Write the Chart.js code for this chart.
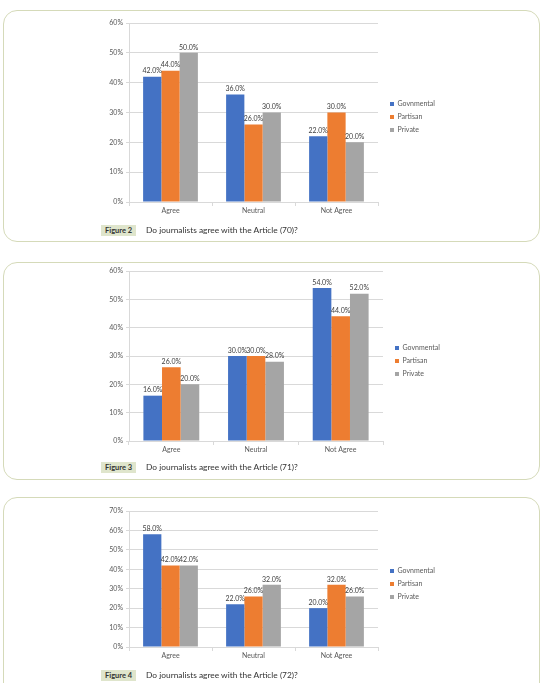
<!DOCTYPE html>
<html>
<head>
<meta charset="utf-8">
<script src="https://cdn.jsdelivr.net/npm/chart.js@4.4.1/dist/chart.umd.min.js"></script>
<style>
  body { margin: 0; background: #fff; font-family: Lato, sans-serif; }
  .panel { position: absolute; left: 3px; width: 537px; border: 1px solid #d5dab9; border-radius: 14px; box-sizing: border-box; }
  canvas { position: absolute; }
  .badge { position: absolute; left: 101px; height: 11px; line-height: 11px; padding: 0 4px; background: #dfe5cc; font-weight: bold; font-size: 7.5px; color: #333; }
  .caption { position: absolute; left: 146px; height: 11px; line-height: 11px; font-size: 8.4px; color: #333; }
</style>
</head>
<body>
<div class="panel" style="top:10px;height:232px"></div>
<div class="panel" style="top:262px;height:218px"></div>
<div class="panel" style="top:497px;height:200px"></div>

<canvas id="fig2" width="420" height="220" style="left:80px;top:12px"></canvas>
<canvas id="fig3" width="420" height="209" style="left:80px;top:262px"></canvas>
<canvas id="fig4" width="420" height="178" style="left:80px;top:499px"></canvas>

<div class="badge" style="top:225px">Figure 2</div><div class="caption" style="top:225px">Do journalists agree with the Article (70)?</div>
<div class="badge" style="top:462px">Figure 3</div><div class="caption" style="top:462px">Do journalists agree with the Article (71)?</div>
<div class="badge" style="top:670px">Figure 4</div><div class="caption" style="top:670px">Do journalists agree with the Article (72)?</div>

<script>
// answers per category, in percent
const categories = ["Agree", "Neutral", "Not Agree"];
const seriesNames = ["Govnmental", "Partisan", "Private"];

const fig2Gov = [42, 36, 22];
const fig2Par = [44, 26, 30];
const fig2Pri = [50, 30, 20];

const fig3Gov = [16, 30, 54];
const fig3Par = [26, 30, 44];
const fig3Pri = [20, 28, 52];

const fig4Gov = [58, 22, 20];
const fig4Par = [42, 26, 32];
const fig4Pri = [42, 32, 26];

const colors = ["#4472C4", "#ED7D31", "#A5A5A5"];
const textColor = "#595959";
const gridColor = "#d9d9d9";

// value labels above each bar ("42.0%")
const valueLabels = {
    id: "valueLabels",
    afterDatasetsDraw(chart) {
        const ctx = chart.ctx;
        ctx.save();
        ctx.font = "7px Lato";
        ctx.fillStyle = "#404040";
        ctx.textAlign = "center";
        ctx.textBaseline = "bottom";
        chart.data.datasets.forEach((ds, i) => {
            chart.getDatasetMeta(i).data.forEach((bar, j) => {
                ctx.fillText(ds.data[j].toFixed(1) + "%", bar.x, bar.y - 2);
            });
        });
        ctx.restore();
    }
};

// put the legend where the original one sits (and give it room so it isn't clipped)
const legendPlace = {
    id: "legendPlace",
    afterLayout(chart, args, opts) {
        const L = chart.legend;
        if (!L || opts.x === undefined) return;
        const dy = opts.y - L.top;
        L.left = opts.x;
        L.right = opts.x + 80;
        L.top += dy;
        L.bottom += dy;
    }
};

// plotRight: right edge of the plot area, canvas coordinates
function makeChart(id, gov, par, pri, yMax, padTop, plotRight, legendX, legendY) {
    const canvas = document.getElementById(id);
    const ctx = canvas.getContext("2d");
    return new Chart(ctx, {
        type: "bar",
        data: {
            labels: categories,
            datasets: [gov, par, pri].map((d, i) => ({
                label: seriesNames[i],
                data: d,
                backgroundColor: colors[i],
                categoryPercentage: 0.66,
                barPercentage: 1
            }))
        },
        options: {
            responsive: false,
            animation: false,
            devicePixelRatio: 1,
            layout: { padding: { top: padTop, left: 0, right: canvas.width - plotRight - 40, bottom: 0 } },
            scales: {
                x: {
                    afterFit: s => { s.height = 30; },
                    border: { display: true, color: gridColor },
                    grid: { drawOnChartArea: false, drawTicks: true, tickLength: 4, color: gridColor },
                    ticks: { color: textColor, font: { family: "Lato", size: 7 }, padding: 1 }
                },
                y: {
                    min: 0,
                    max: yMax,
                    afterFit: s => { s.width = 49; },
                    border: { display: true, color: gridColor },
                    grid: { color: gridColor, drawTicks: true, tickLength: 3 },
                    ticks: {
                        stepSize: 10,
                        color: textColor,
                        font: { family: "Lato", size: 7 },
                        padding: 3,
                        callback: v => v + "%"
                    }
                }
            },
            plugins: {
                legend: {
                    position: "right",
                    align: "start",
                    maxWidth: 40,
                    labels: {
                        boxWidth: 4,
                        boxHeight: 4,
                        padding: 6,
                        color: textColor,
                        font: { family: "Lato", size: 7 }
                    }
                },
                tooltip: { enabled: false },
                legendPlace: { x: legendX - 6, y: legendY - 6 - 3.5 }
            }
        },
        plugins: [valueLabels, legendPlace]
    });
}

makeChart("fig2", fig2Gov, fig2Par, fig2Pri, 60, 11, 378 - 80, 390 - 80, 104 - 12);
makeChart("fig3", fig3Gov, fig3Par, fig3Pri, 60, 9, 383 - 80, 395 - 80, 348 - 262);
makeChart("fig4", fig4Gov, fig4Par, fig4Pri, 70, 12, 378 - 80, 390 - 80, 571 - 499);
</script>
</body>
</html>
